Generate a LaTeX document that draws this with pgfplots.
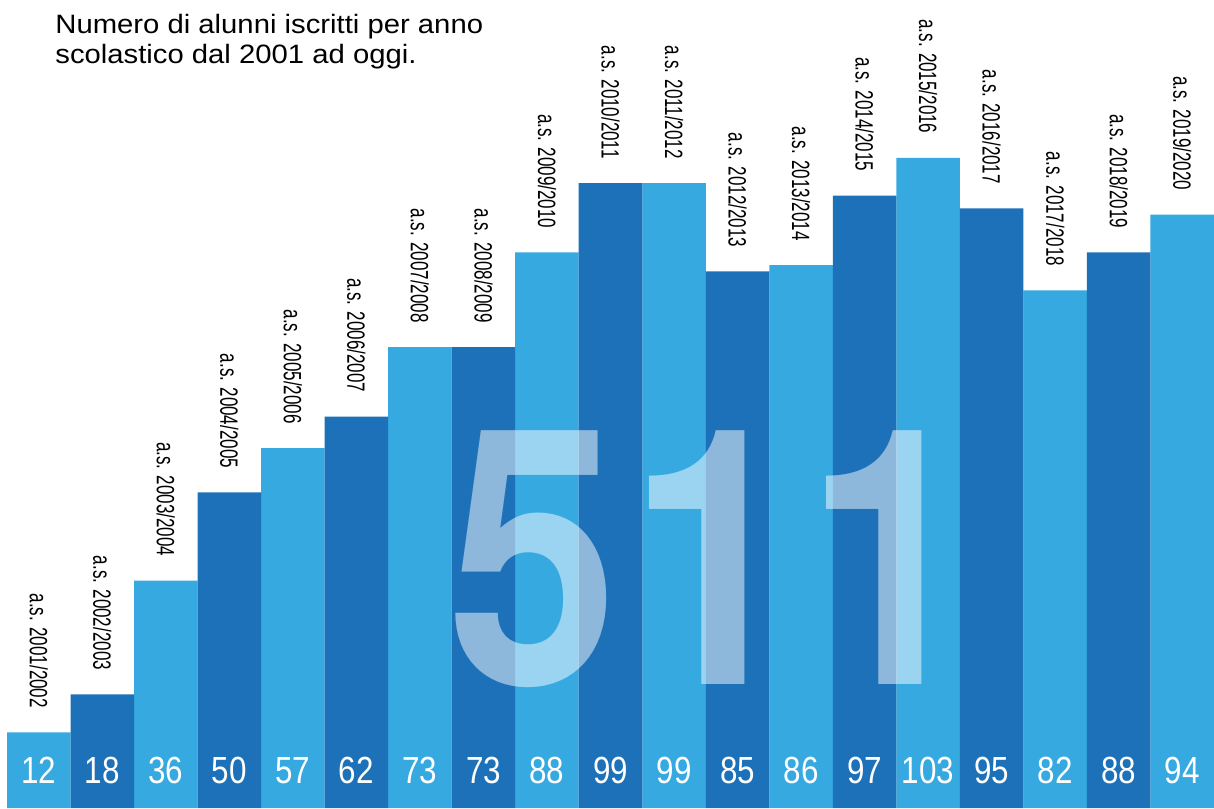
\documentclass[border=0pt]{standalone}
\usepackage{fontspec}
\setmainfont{Liberation Sans}
\newfontfamily\titlefont[FakeStretch=1.1]{Liberation Sans}
\newfontfamily\labfont[FakeStretch=0.68]{Liberation Sans}
\newfontfamily\numfont[FakeStretch=0.83]{Liberation Sans}
\newfontfamily\bigfont[FakeStretch=0.86]{TeX Gyre Heros}
\usepackage{pgfplots}
\usepackage{pgfplotstable}
\pgfplotsset{compat=1.18}
\definecolor{lightb}{HTML}{36A9E1}
\definecolor{darkb}{HTML}{1D71B8}

\pgfplotstableread{
x v lab
1 12 {a.s. 2001/2002}
2 18 {a.s. 2002/2003}
3 36 {a.s. 2003/2004}
4 50 {a.s. 2004/2005}
5 57 {a.s. 2005/2006}
6 62 {a.s. 2006/2007}
7 73 {a.s. 2007/2008}
8 73 {a.s. 2008/2009}
9 88 {a.s. 2009/2010}
10 99 {a.s. 2010/2011}
11 99 {a.s. 2011/2012}
12 85 {a.s. 2012/2013}
13 86 {a.s. 2013/2014}
14 97 {a.s. 2014/2015}
15 103 {a.s. 2015/2016}
16 95 {a.s. 2016/2017}
17 82 {a.s. 2017/2018}
18 88 {a.s. 2018/2019}
19 94 {a.s. 2019/2020}
}\alldata

\pgfplotstableread{
x v
1 12
3 36
5 57
7 73
9 88
11 99
13 86
15 103
17 82
19 94
}\lightdata

\pgfplotstableread{
x v
2 18
4 50
6 62
8 73
10 99
12 85
14 97
16 95
18 88
}\darkdata

\begin{document}
\begin{tikzpicture}
\useasboundingbox (0,0) rectangle (607pt,404pt);
\begin{axis}[
  at={(3.5pt,0pt)}, anchor=south west,
  scale only axis, width=603.5pt, height=404pt,
  xmin=0.5, xmax=19.5, ymin=0, ymax=128,
  enlargelimits=false, hide axis, clip=false,
]
\addplot[ybar, bar width=1, bar shift=0pt, fill=lightb, draw=none] table[x=x,y=v] {\lightdata};
\addplot[ybar, bar width=1, bar shift=0pt, fill=darkb, draw=none] table[x=x,y=v] {\darkdata};
% rotated year labels
\addplot[draw=none, point meta=explicit symbolic,
  nodes near coords,
  nodes near coords style={font=\labfont\fontsize{12.5}{14}\selectfont, text=black, inner sep=0pt,
    yshift=12pt, rotate=-90, anchor=east}]
  table[x=x,y=v,meta=lab] {\alldata};
% values at the bottom
\addplot[draw=none, point meta=explicit symbolic,
  nodes near coords,
  nodes near coords style={font=\numfont\fontsize{18.9}{20}\selectfont, text=white, inner sep=0pt,
    anchor=base, yshift=12.5pt}]
  table[x=x,y expr=0,meta=v] {\alldata};
\end{axis}
% big overlay number
\node[font=\bigfont\bfseries\fontsize{179}{180}\selectfont, text=white, text opacity=0.5, inner sep=0pt, anchor=base] at (266.5pt,61.5pt) {5};
\node[font=\bigfont\bfseries\fontsize{179}{180}\selectfont, text=white, text opacity=0.5, inner sep=0pt, anchor=base] at (357pt,61.5pt) {1};
\node[font=\bigfont\bfseries\fontsize{179}{180}\selectfont, text=white, text opacity=0.5, inner sep=0pt, anchor=base] at (445.5pt,61.5pt) {1};
% title
\node[font=\titlefont\fontsize{13.3}{15}\selectfont, anchor=base west, inner sep=0pt] at (27.5pt,387pt) {Numero di alunni iscritti per anno};
\node[font=\titlefont\fontsize{13.3}{15}\selectfont, anchor=base west, inner sep=0pt] at (27.5pt,372pt) {scolastico dal 2001 ad oggi.};
\end{tikzpicture}
\end{document}
